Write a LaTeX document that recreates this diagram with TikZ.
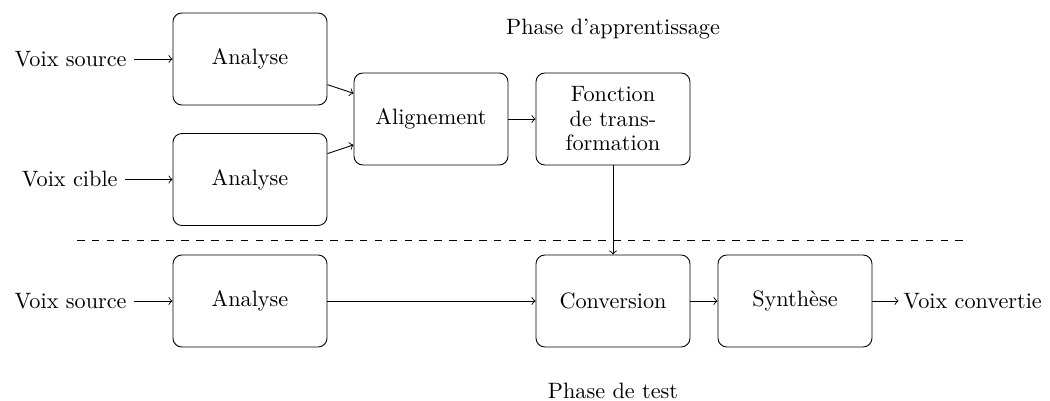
\documentclass[tikz,border=0pt]{standalone}
\begin{document}
\begin{tikzpicture}[x=0.45pt,y=-0.45pt,
  blk/.style={draw,rounded corners=4pt,minimum width=69.3pt,minimum height=41.4pt,align=center,inner sep=2pt},
  lbl/.style={inner sep=0pt},
  arr/.style={->}]
\useasboundingbox (0,0) rectangle (1050,401);
\node[blk] (a1) at (250,59) {Analyse};
\node[blk] (a2) at (250,179.5) {Analyse};
\node[blk] (al) at (431,119) {Alignement};
\node[blk] (fn) at (613,119) {Fonction\\[-1pt]de trans-\\[-1pt]formation};
\node[blk] (a3) at (250,301) {Analyse};
\node[blk] (cv) at (613,301) {Conversion};
\node[blk] (sy) at (795,301) {Synth\`ese};
\node[lbl,anchor=east] (vs1) at (127,59) {Voix source};
\node[lbl,anchor=east] (vc) at (118,179.5) {Voix cible};
\node[lbl,anchor=east] (vs2) at (127,301) {Voix source};
\node[lbl,anchor=west] (vo) at (903,301) {Voix convertie};
\node[lbl] (pa) at (613,29) {Phase d'apprentissage};
\node[lbl] (pt) at (613,391) {Phase de test};
\coordinate (d1) at (77,240);
\coordinate (d2) at (963,240);
\draw[dash pattern=on 3.4pt off 3.3pt] (d1) -- (d2);
\draw[arr] ([xshift=3pt]vs1.east) -- (a1.west);
\draw[arr] ([xshift=3pt]vc.east) -- (a2.west);
\draw[arr] ([xshift=3pt]vs2.east) -- (a3.west);
\draw[arr] (a1) -- (al);
\draw[arr] (a2) -- (al);
\draw[arr] (al) -- (fn);
\draw[arr] (fn) -- (cv);
\draw[arr] (a3) -- (cv);
\draw[arr] (cv) -- (sy);
\draw[arr] (sy.east) -- ([xshift=-2pt]vo.west);
\end{tikzpicture}
\end{document}
